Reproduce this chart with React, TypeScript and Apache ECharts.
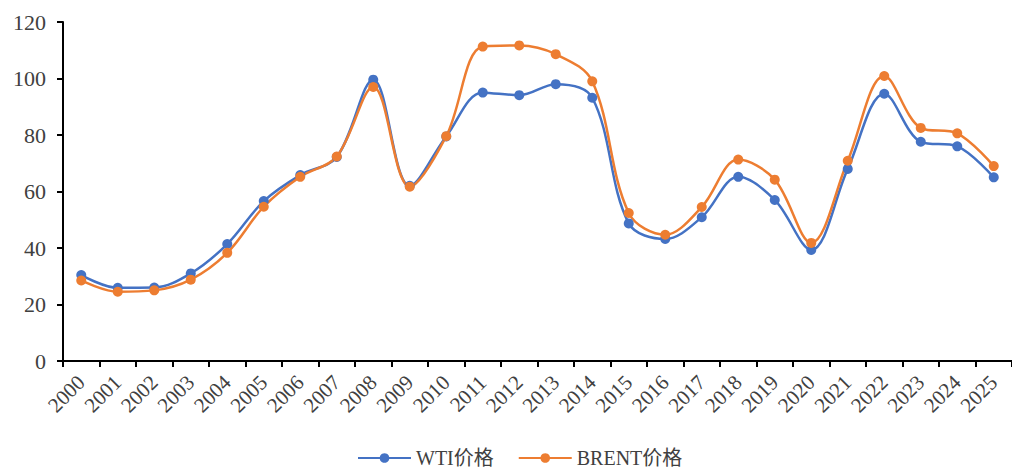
import React, { useEffect, useRef } from "react";
import * as echarts from "echarts";

const years = [
  "2000", "2001", "2002", "2003", "2004", "2005", "2006", "2007", "2008", "2009",
  "2010", "2011", "2012", "2013", "2014", "2015", "2016", "2017", "2018", "2019",
  "2020", "2021", "2022", "2023", "2024", "2025",
];

const wti = [
  30.4, 25.9, 26.0, 31.0, 41.4, 56.6, 65.8, 72.2, 99.6, 62.0,
  79.5, 95.0, 94.1, 98.0, 93.2, 48.7, 43.2, 50.9, 65.2, 57.0,
  39.3, 68.0, 94.6, 77.6, 76.0, 65.0,
];

const brent = [
  28.5, 24.5, 25.0, 28.8, 38.3, 54.6, 65.2, 72.4, 97.0, 61.7,
  79.6, 111.3, 111.7, 108.6, 99.0, 52.4, 44.7, 54.5, 71.3, 64.2,
  41.8, 70.9, 100.9, 82.5, 80.6, 69.0,
];

const yTicks = { min: 0, max: 120, interval: 20 };

const BLUE = "#4472C4";
const ORANGE = "#ED7D31";
const FONT = "'Liberation Serif', 'Noto Sans CJK SC', serif";

export default function App() {
  const ref = useRef<HTMLDivElement>(null);

  useEffect(() => {
    if (!ref.current) return;
    const chart = echarts.init(ref.current, undefined, { renderer: "svg" });
    chart.setOption({
      animation: false,
      backgroundColor: "#ffffff",
      textStyle: { fontFamily: FONT },
      grid: { left: 63, top: 22, width: 957, height: 339, containLabel: false },
      legend: {
        left: 357,
        top: 446,
        padding: 0,
        itemWidth: 53,
        itemHeight: 12,
        itemGap: 24,
        textStyle: { fontSize: 20, color: "#404040", fontFamily: FONT, lineHeight: 24 },
        data: ["WTI价格", "BRENT价格"],
      },
      xAxis: {
        type: "category",
        data: years,
        boundaryGap: true,
        axisLine: { lineStyle: { color: "#000", width: 2 } },
        axisTick: { show: true, length: 6, lineStyle: { color: "#000", width: 2 } },
        axisLabel: { rotate: 45, fontSize: 21, color: "#404040", margin: 18, fontFamily: FONT, interval: 0 },
      },
      yAxis: {
        type: "value",
        min: yTicks.min,
        max: yTicks.max,
        interval: yTicks.interval,
        axisLine: { show: true, lineStyle: { color: "#000", width: 2 } },
        axisTick: { show: true, length: 6, lineStyle: { color: "#000", width: 2 } },
        splitLine: { show: false },
        axisLabel: { fontSize: 22, color: "#404040", margin: 17, fontFamily: FONT },
      },
      series: [
        {
          name: "WTI价格",
          type: "line",
          data: wti,
          smooth: 0.35,
          symbol: "circle",
          symbolSize: 10,
          lineStyle: { color: BLUE, width: 2.5 },
          itemStyle: { color: BLUE },
        },
        {
          name: "BRENT价格",
          type: "line",
          data: brent,
          smooth: 0.35,
          symbol: "circle",
          symbolSize: 10,
          lineStyle: { color: ORANGE, width: 2.5 },
          itemStyle: { color: ORANGE },
        },
      ],
    });
    return () => chart.dispose();
  }, []);

  return (
    <div
      ref={ref}
      style={{ position: "absolute", left: 0, top: 0, width: 1012, height: 475 }}
    />
  );
}
